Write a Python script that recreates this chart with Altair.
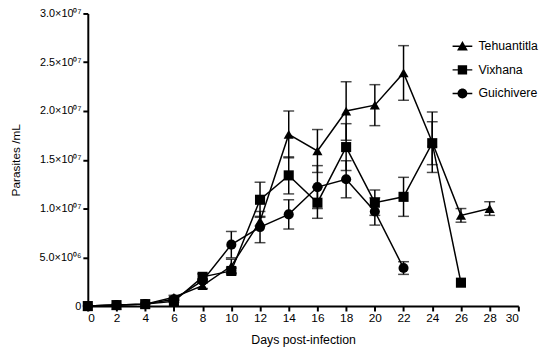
import altair as alt
import pandas as pd

series_names = ["Tehuantitla", "Vixhana", "Guichivere"]

teh_days = [0, 2, 4, 6, 8, 10, 12, 14, 16, 18, 20, 22, 24, 26, 28]
teh_mean = [0.0, 0.1, 0.2, 0.9, 2.1, 4.1, 8.7, 17.6, 15.9, 20.0, 20.6, 23.9, 16.8, 9.3, 10.0]
teh_sem = [0.0, 0.0, 0.0, 0.2, 0.3, 0.7, 0.5, 2.4, 2.2, 3.0, 2.1, 2.8, 3.1, 0.7, 0.7]

vix_days = [0, 2, 4, 6, 8, 10, 12, 14, 16, 18, 20, 22, 24, 26]
vix_mean = [0.0, 0.1, 0.2, 0.5, 3.0, 3.6, 10.9, 13.4, 10.6, 16.3, 10.6, 11.2, 16.7, 2.4]
vix_sem = [0.0, 0.0, 0.0, 0.1, 0.3, 0.3, 1.8, 1.9, 1.6, 2.4, 1.3, 2.0, 2.2, 0.0]

gui_days = [0, 2, 4, 6, 8, 10, 12, 14, 16, 18, 20, 22]
gui_mean = [0.0, 0.1, 0.2, 0.7, 2.6, 6.3, 8.1, 9.4, 12.2, 13.0, 9.7, 3.9]
gui_sem = [0.0, 0.0, 0.0, 0.1, 0.2, 1.35, 1.6, 1.5, 2.2, 1.9, 1.4, 0.65]

x_ticks = list(range(0, 31, 2))
y_ticks = [0, 5000000, 10000000, 15000000, 20000000, 25000000, 30000000]
y_tick_labels = ["0", "5.0×10⁰⁶", "1.0×10⁰⁷", "1.5×10⁰⁷", "2.0×10⁰⁷", "2.5×10⁰⁷", "3.0×10⁰⁷"]

shapes_plot = ["triangle-up", "square", "circle"]
# legend glyphs: short filled bar (the line) plus the marker
shapes_legend = [
    "M-2,-0.15H2V0.15H-2ZM0,-1.05L1.1,0.85L-1.1,0.85Z",
    "M-2,-0.15H2V0.15H-2ZM-0.95,-0.95H0.95V0.95H-0.95Z",
    "M-2,-0.15H2V0.15H-2ZM1,0A1,1,0,1,1,-1,0A1,1,0,1,1,1,0Z",
]

rows = []
for name, days, mean, sem in [
    (series_names[0], teh_days, teh_mean, teh_sem),
    (series_names[1], vix_days, vix_mean, vix_sem),
    (series_names[2], gui_days, gui_mean, gui_sem),
]:
    for d, m, s in zip(days, mean, sem):
        rows.append({"series": name, "day": d, "mean": m * 1e6,
                     "lo": max(m - s, 0) * 1e6, "hi": (m + s) * 1e6, "sem": s})
df = pd.DataFrame(rows)

label_expr = "'0'"
for v, t in zip(y_ticks[1:], y_tick_labels[1:]):
    label_expr = f"datum.value == {int(v)} ? '{t}' : (" + label_expr + ")"

FONT = "Liberation Sans"

x_axis = alt.Axis(values=x_ticks, title="Days post-infection", labelFontSize=12,
                  labelOverlap=False, titleFontSize=12.5, titlePadding=10, labelPadding=2)
y_axis = alt.Axis(values=y_ticks, labelExpr=label_expr, title="Parasites /mL",
                  labelOverlap=False, labelBound=False,
                  labelFontSize=11, titleFontSize=12, titlePadding=17, labelPadding=2)
x_scale = alt.Scale(domain=[0, 30], nice=False, zero=False)
y_scale = alt.Scale(domain=[0, 30000000], nice=False)


def X(field):
    return alt.X(field, scale=x_scale, axis=x_axis)


def Y(field):
    return alt.Y(field, scale=y_scale, axis=y_axis)


base = alt.Chart(df)

lines = base.mark_line(color="black", strokeWidth=1.5).encode(
    x=X("day:Q"), y=Y("mean:Q"), detail="series:N", order="day:Q")

errbase = base.transform_filter("datum.sem > 0")
err = errbase.mark_rule(color="black", strokeWidth=1.5).encode(
    x=X("day:Q"), y=Y("lo:Q"), y2="hi:Q")
cap_lo = errbase.mark_tick(color="black", orient="horizontal", size=11,
                           thickness=1.5).encode(x=X("day:Q"), y=Y("lo:Q"))
cap_hi = errbase.mark_tick(color="black", orient="horizontal", size=11,
                           thickness=1.5).encode(x=X("day:Q"), y=Y("hi:Q"))

point_layers = []
for name, shp in zip(series_names, shapes_plot):
    point_layers.append(
        base.transform_filter(alt.datum.series == name).mark_point(
            filled=True, color="black", size=105, opacity=1, shape=shp
        ).encode(x=X("day:Q"), y=Y("mean:Q"))
    )

legend_layer = base.transform_filter("datum.day < 0").mark_point(
    filled=True, color="black", size=100, opacity=1).encode(
    x=X("day:Q"), y=Y("mean:Q"),
    shape=alt.Shape("series:N", scale=alt.Scale(domain=series_names, range=shapes_legend),
                    legend=alt.Legend(
                        title=None, orient="none", legendX=374, legendY=27,
                        labelFontSize=12.5, labelFont=FONT, labelColor="black",
                        labelOffset=10, rowPadding=8, symbolSize=100, labelLimit=200,
                        symbolFillColor="black", symbolOpacity=1)))

chart = alt.layer(lines, err, cap_lo, cap_hi, *point_layers, legend_layer).properties(
    width=437, height=297,
    autosize=alt.AutoSizeParams(type="none"),
    padding={"left": 81, "top": 3, "right": 24, "bottom": 40},
    background="white",
).configure_view(stroke=None).configure_axis(
    grid=False, domainColor="black", domainWidth=2, tickColor="black", tickWidth=2,
    tickSize=5, labelColor="black", titleColor="black", labelFont=FONT, titleFont=FONT,
    titleFontWeight="normal",
)

chart.save("out.html", embed_options={"renderer": "svg", "actions": False})
